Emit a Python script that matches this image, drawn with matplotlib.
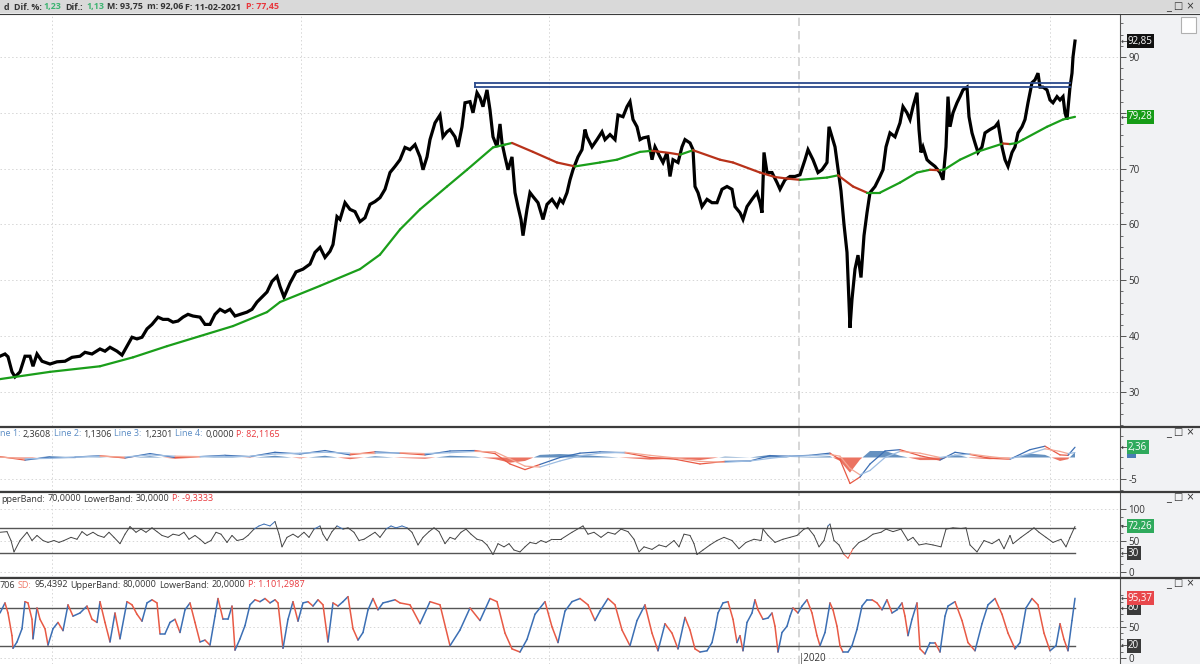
import numpy as np
import matplotlib.pyplot as plt
from matplotlib.collections import LineCollection
from matplotlib.patches import Rectangle
from matplotlib.lines import Line2D
from matplotlib.transforms import blended_transform_factory

plt.rcParams['font.family'] = ['Open Sans', 'DejaVu Sans']

# ---- data (bar index ~ trading day) ----
price_day = [0, 5, 8, 12, 15, 20, 25, 30, 33, 37, 42, 50, 57, 65, 72, 80, 85, 92, 100, 105,
             110, 117, 122, 127, 132, 137, 142, 147, 152, 158, 163, 168, 173, 178, 183, 188, 193, 200, 205, 210,
             215, 220, 225, 230, 235, 240, 247, 252, 257, 262, 267, 272, 277, 280, 284, 290, 296, 303, 310, 315,
             320, 325, 330, 333, 337, 340, 345, 350, 355, 360, 365, 370, 375, 380, 385, 390, 395, 400, 405, 410,
             415, 420, 423, 427, 430, 435, 440, 443, 447, 450, 455, 458, 462, 465, 470, 473, 477, 480, 483, 487,
             490, 493, 497, 500, 502, 505, 508, 512, 515, 518, 521, 523, 527, 530, 533, 538, 543, 547, 552, 557,
             560, 563, 567, 570, 573, 578, 582, 585, 587, 592, 597, 602, 605, 610, 615, 618, 623, 627, 630, 633,
             637, 640, 643, 648, 652, 655, 660, 663, 667, 670, 673, 678, 682, 685, 690, 693, 695, 698, 702, 707,
             712, 717, 722, 727, 732, 735, 740, 743, 747, 752, 757, 760, 762, 764, 767, 772, 777, 780, 785, 790,
             795, 800, 805, 808, 813, 818, 822, 827, 829, 832, 835, 838, 841, 844, 847, 850, 852, 855, 858, 861,
             864, 867, 870, 875, 880, 883, 886, 890, 895, 900, 903, 907, 910, 913, 917, 919, 921, 923, 927, 930,
             935, 940, 943, 946, 948, 950, 953, 957, 960, 963, 967, 969, 972, 975, 978, 982, 985, 990, 995, 998,
             1002, 1005, 1008, 1012, 1015, 1018, 1022, 1025, 1028, 1032, 1035, 1038, 1040, 1043, 1047, 1050, 1053, 1057, 1060, 1063,
             1065, 1067, 1070, 1072, 1073, 1075]
price_close = [36.4, 36.8, 36.3, 33.6, 32.7, 33.6, 36.4, 36.4, 34.6, 36.8, 35.5, 35.0, 35.4, 35.5, 36.2, 36.4, 37.1, 36.8, 37.7, 37.3,
               38.0, 37.3, 36.6, 38.2, 39.8, 39.5, 39.8, 41.3, 42.1, 43.4, 43.0, 43.0, 42.5, 42.7, 43.4, 43.9, 43.6, 43.4, 42.1, 42.1,
               43.9, 44.8, 44.3, 44.8, 43.6, 43.9, 44.3, 44.8, 46.1, 47.0, 47.9, 49.8, 50.7, 48.9, 47.0, 49.5, 51.5, 52.0, 52.9, 55.0,
               55.9, 54.1, 55.2, 56.4, 61.4, 60.9, 63.9, 62.7, 62.3, 60.5, 61.2, 63.6, 64.1, 64.8, 66.3, 69.3, 70.4, 71.6, 73.8, 73.4,
               74.3, 72.1, 69.8, 72.1, 75.2, 78.2, 79.6, 75.7, 76.6, 77.0, 75.7, 73.9, 77.5, 81.8, 82.0, 80.0, 83.6, 82.7, 81.1, 84.1,
               80.5, 75.7, 73.9, 78.0, 74.6, 72.1, 69.8, 72.1, 65.7, 63.2, 60.9, 58.0, 62.7, 65.7, 65.0, 63.9, 60.9, 63.6, 64.5, 63.2,
               64.5, 63.9, 65.7, 68.0, 69.8, 72.1, 73.4, 77.0, 75.7, 73.9, 75.2, 76.6, 75.2, 76.1, 75.2, 79.6, 79.3, 81.1, 82.0, 78.8,
               77.5, 75.2, 75.5, 75.7, 71.6, 73.9, 72.1, 71.1, 72.9, 68.6, 71.6, 71.1, 73.9, 75.2, 74.6, 73.4, 66.8, 65.7, 63.2, 64.5,
               63.9, 63.9, 66.3, 66.8, 66.3, 63.2, 62.1, 60.9, 63.2, 64.5, 65.7, 63.9, 62.1, 72.9, 69.3, 69.3, 67.5, 66.3, 68.0, 68.6,
               68.6, 68.9, 71.6, 73.4, 71.6, 69.3, 69.8, 71.1, 77.5, 75.7, 73.9, 70.0, 66.0, 60.0, 55.0, 41.5, 46.6, 52.0, 54.5, 50.5,
               58.0, 62.1, 65.7, 66.8, 68.6, 69.8, 73.9, 76.4, 75.7, 78.2, 81.1, 80.0, 78.8, 81.1, 83.6, 77.0, 72.9, 73.9, 71.6, 71.1,
               70.4, 69.3, 68.0, 73.9, 82.9, 77.5, 80.0, 81.8, 82.9, 84.1, 84.6, 79.3, 76.4, 74.6, 72.9, 73.9, 76.4, 77.0, 77.5, 78.2,
               73.9, 71.6, 70.4, 72.9, 73.9, 76.4, 77.5, 78.8, 81.8, 85.4, 85.9, 87.1, 84.6, 84.6, 84.1, 82.3, 81.8, 82.9, 82.3, 82.9,
               80.0, 78.8, 84.6, 87.1, 90.0, 92.85]

ma_day = [0, 50, 100, 133, 167, 200, 233, 267, 280, 320, 360, 380, 400, 420, 447, 467, 493, 505, 512, 533,
          557, 575, 600, 617, 640, 652, 670, 680, 693, 720, 733, 760, 775, 788, 800, 827, 838, 853, 867, 880,
          900, 917, 930, 940, 945, 960, 977, 1003, 1010, 1017, 1023, 1047, 1063, 1075]
ma_value = [32.3, 33.6, 34.6, 36.2, 38.2, 40.0, 41.8, 44.3, 46.1, 49.0, 52.0, 54.6, 59.1, 62.7, 66.8, 69.8, 73.8, 74.3, 74.6, 73.0,
            71.1, 70.4, 71.1, 71.6, 73.0, 73.2, 72.8, 72.5, 73.3, 71.6, 71.1, 69.3, 68.5, 68.2, 68.0, 68.4, 68.8, 66.8, 65.7, 65.7,
            67.5, 69.3, 69.8, 69.7, 69.9, 71.6, 73.0, 74.5, 74.4, 74.6, 75.2, 77.5, 78.8, 79.28]

channel_start, channel_end = 475, 1070
channel_levels = [85.35, 84.6]

macd_day = [0, 25, 50, 75, 100, 125, 150, 175, 200, 225, 250, 275, 300, 325, 350, 375, 400, 425, 450, 475,
            495, 510, 525, 540, 560, 580, 600, 625, 650, 675, 700, 725, 750, 770, 790, 810, 830, 840, 850, 860,
            870, 885, 900, 920, 940, 955, 970, 990, 1010, 1030, 1045, 1060, 1068, 1075]
macd_line = [0.2, -0.6, 0.1, 0.1, 0.4, -0.1, 0.9, 0.0, 0.2, 0.5, 0.2, 1.2, 0.8, 1.6, 0.6, 1.3, 1.0, 0.6, 1.5, 1.6,
             0.9, -1.5, -2.8, -1.6, 0.0, 1.0, 1.3, 1.1, 0.0, -0.4, -1.5, -0.9, -0.8, 0.4, 0.3, 0.5, 1.0, -0.5, -6.0, -4.5,
             -1.5, 1.5, 1.8, 0.4, -0.6, 1.2, 0.7, -0.2, -0.4, 1.8, 2.6, 0.6, 0.5, 2.36]
signal_line = [0.1, -0.3, -0.2, 0.1, 0.3, 0.1, 0.6, 0.3, 0.2, 0.3, 0.3, 0.8, 1.0, 1.2, 1.0, 1.0, 1.1, 0.9, 1.1, 1.4,
               1.3, -0.3, -2.0, -2.2, -0.8, 0.4, 1.0, 1.2, 0.5, -0.1, -0.9, -1.1, -0.8, -0.2, 0.3, 0.4, 0.7, 0.3, -2.5, -4.0,
               -3.0, 0.0, 1.4, 1.0, 0.0, 0.5, 0.8, 0.2, -0.3, 0.9, 2.0, 1.4, 0.9, 1.13]

rsi_day = [0, 7, 11, 14, 20, 27, 32, 37, 43, 48, 54, 59, 64, 71, 77, 82, 87, 93, 98, 104,
           109, 114, 120, 125, 130, 136, 141, 146, 152, 157, 162, 168, 173, 179, 184, 189, 195, 200, 205, 211,
           216, 221, 227, 232, 237, 243, 248, 254, 259, 264, 270, 275, 279, 282, 287, 293, 298, 304, 309, 314,
           320, 323, 327, 332, 337, 343, 348, 354, 359, 364, 370, 375, 380, 386, 391, 396, 402, 407, 412, 418,
           423, 429, 434, 439, 445, 450, 455, 461, 466, 471, 477, 482, 487, 493, 498, 504, 509, 514, 520, 525,
           530, 536, 541, 546, 552, 561, 572, 583, 588, 594, 601, 608, 615, 621, 628, 634, 639, 644, 652, 659,
           666, 674, 679, 684, 690, 694, 697, 703, 710, 717, 724, 732, 739, 746, 754, 761, 763, 768, 775, 783,
           790, 797, 804, 808, 814, 819, 824, 828, 830, 834, 839, 844, 848, 853, 859, 866, 873, 881, 886, 893,
           901, 908, 913, 919, 926, 933, 941, 946, 953, 961, 966, 970, 977, 984, 992, 999, 1004, 1010, 1013, 1021,
           1028, 1034, 1039, 1046, 1053, 1061, 1066, 1070, 1075]
rsi_value = [63, 64, 50, 32, 50, 63, 50, 58, 50, 47, 50, 47, 50, 55, 52, 64, 58, 63, 58, 55,
             63, 55, 45, 60, 72, 63, 68, 63, 70, 64, 58, 55, 60, 58, 63, 52, 58, 52, 45, 50,
             63, 60, 47, 58, 50, 52, 58, 68, 73, 76, 73, 80, 60, 40, 55, 60, 55, 63, 55, 68,
             73, 60, 50, 64, 73, 68, 70, 63, 50, 52, 58, 63, 55, 68, 73, 70, 73, 70, 63, 43,
             55, 64, 70, 64, 45, 55, 52, 63, 68, 60, 52, 50, 43, 28, 45, 40, 45, 35, 32, 40,
             47, 45, 50, 47, 52, 52, 63, 73, 60, 63, 55, 63, 60, 68, 64, 52, 32, 40, 36, 43,
             40, 50, 40, 60, 58, 45, 28, 35, 43, 50, 55, 50, 37, 47, 52, 50, 68, 58, 47, 52,
             55, 58, 68, 70, 58, 40, 50, 73, 76, 50, 43, 28, 22, 37, 47, 52, 60, 63, 68, 64,
             68, 50, 55, 43, 45, 43, 40, 68, 70, 69, 70, 43, 32, 50, 45, 52, 37, 58, 45, 55,
             63, 70, 63, 55, 47, 52, 40, 55, 72.26]

stoch_day = [0, 5, 8, 12, 13, 17, 22, 25, 28, 32, 33, 37, 40, 45, 48, 53, 58, 63, 68, 73,
             80, 87, 92, 97, 100, 105, 110, 115, 120, 127, 132, 137, 142, 147, 152, 157, 160, 165, 170, 175,
             180, 185, 190, 195, 200, 205, 210, 215, 218, 223, 228, 232, 235, 240, 245, 250, 255, 260, 265, 270,
             275, 278, 283, 288, 293, 298, 303, 308, 313, 318, 323, 328, 333, 338, 343, 348, 353, 358, 363, 368,
             373, 378, 383, 388, 395, 400, 410, 420, 430, 440, 450, 460, 470, 480, 490, 497, 505, 512, 520, 527,
             535, 545, 552, 558, 565, 572, 580, 588, 595, 600, 608, 615, 622, 630, 637, 645, 652, 658, 665, 672,
             678, 685, 690, 695, 700, 707, 712, 715, 718, 723, 728, 733, 737, 740, 743, 747, 752, 755, 758, 763,
             768, 772, 775, 778, 782, 787, 790, 793, 798, 802, 807, 812, 817, 820, 825, 830, 833, 837, 840, 843,
             848, 852, 857, 862, 867, 872, 877, 882, 887, 892, 897, 902, 905, 908, 912, 917, 920, 925, 930, 935,
             940, 945, 948, 955, 962, 968, 975, 982, 988, 995, 1002, 1008, 1015, 1020, 1026, 1032, 1038, 1044, 1050, 1056,
             1060, 1064, 1068, 1072, 1075]
stoch_value = [72, 88, 72, 36, 16, 26, 47, 90, 88, 62, 31, 80, 62, 47, 21, 47, 57, 44, 85, 67,
               72, 83, 62, 57, 90, 57, 26, 72, 31, 90, 85, 70, 59, 88, 93, 88, 39, 39, 57, 62,
               41, 77, 88, 57, 26, 29, 21, 67, 95, 62, 62, 83, 13, 31, 52, 85, 93, 90, 95, 88,
               93, 88, 16, 62, 90, 59, 88, 90, 83, 93, 85, 26, 88, 83, 90, 98, 47, 29, 41, 77,
               95, 77, 88, 90, 93, 88, 85, 55, 90, 85, 20, 45, 80, 60, 95, 90, 40, 15, 10, 30,
               70, 90, 50, 25, 75, 90, 95, 85, 60, 75, 95, 85, 45, 20, 60, 85, 40, 12, 55, 40,
               15, 65, 45, 15, 10, 12, 25, 46, 72, 88, 90, 62, 25, 36, 12, 57, 72, 93, 77, 62,
               64, 72, 51, 10, 41, 51, 67, 80, 72, 83, 93, 72, 36, 20, 41, 88, 77, 51, 20, 10,
               10, 20, 46, 83, 93, 93, 88, 77, 93, 72, 77, 88, 67, 36, 62, 88, 15, 7, 25, 25,
               10, 67, 83, 90, 60, 25, 12, 55, 85, 95, 70, 40, 15, 25, 80, 95, 85, 40, 12, 20,
               55, 30, 12, 60, 95.37]

# ---- figure layout in pixels ----
W, H = 1200, 664
PLOT_R = 1120
fig = plt.figure(figsize=(12, 6.64), dpi=100)
fig.patch.set_facecolor('#f1f2f4')
TXT = '#333333'
BLUE, LBLUE, RED, LRED = '#3c6fb4', '#9dbde2', '#e85a45', '#f4a592'


def fy(y):
    return 1 - y / H


def make_ax(top, bottom, ylim):
    ax = fig.add_axes([0, fy(bottom), PLOT_R / W, (bottom - top) / H])
    ax.set_facecolor('white')
    ax.set_xlim(0, PLOT_R)
    ax.set_ylim(*ylim)
    for s in ['left', 'top', 'bottom']:
        ax.spines[s].set_visible(False)
    ax.spines['right'].set_color('#555555')
    ax.spines['right'].set_linewidth(0.8)
    ax.set_xticks([])
    ax.yaxis.tick_right()
    ax.tick_params(axis='y', which='major', length=4, width=0.7, color='#555555',
                   labelsize=7, labelcolor=TXT, pad=2)
    ax.tick_params(axis='y', which='minor', length=2.5, width=0.6, color='#555555')
    for xv in [52, 301, 549, 1050]:
        ax.axvline(xv, color='#d6d6d6', lw=0.7, ls=(0, (1.5, 2.5)), zorder=0)
    ax.axvline(799, color='#cfcfcf', lw=1.2, ls=(0, (5, 3)), zorder=0)
    return ax


def tag(ax, val, text, fc, arrow=True):
    tr = blended_transform_factory(fig.transFigure, ax.transData)
    if arrow:
        ax.text(1121 / W, val, '←', transform=tr, fontsize=6, color=TXT, va='center', ha='left',
                clip_on=False, family='DejaVu Sans')
    ax.text(1128 / W, val, text, transform=tr, fontsize=7, color='white', va='center', ha='left',
            clip_on=False, bbox=dict(boxstyle='square,pad=0.15', fc=fc, ec='none'))


def colored_line(ax, x, y, colors, lw, z=3):
    pts = np.column_stack([x, y]).reshape(-1, 1, 2)
    segs = np.concatenate([pts[:-1], pts[1:]], axis=1)
    lc = LineCollection(segs, colors=colors, linewidths=lw, zorder=z, capstyle='round')
    ax.add_collection(lc)


renderer = fig.canvas.get_renderer()


def chain(x, y, parts, size=6.5, weight='normal'):
    for s, c in parts:
        t = fig.text(x / W, fy(y), s, color=c, fontsize=size, weight=weight, va='center', ha='left')
        x += t.get_window_extent(renderer=renderer).width + 2.5


# ---- main price panel ----
ax = make_ax(14, 426, (23.9, 97.7))
ax.set_yticks(range(30, 91, 10))
ax.set_yticklabels(['30', '40', '50', '60', '70', '', '90'])
ax.set_yticks(np.arange(24, 98, 2), minor=True)
ax.grid(axis='y', which='major', color='#d6d6d6', lw=0.7, ls=(0, (1.5, 2.5)))
ax.plot(price_day, price_close, color='black', lw=2.3, solid_joinstyle='miter', zorder=3)
ma = np.array(ma_value)
ma_cols = ['#1a9e1a' if d >= 0 else '#b8321a' for d in np.diff(ma)]
colored_line(ax, ma_day, ma, ma_cols, 1.6, z=4)
for lvl in channel_levels:
    ax.plot([channel_start, channel_end], [lvl, lvl], color='#2b4a8c', lw=1.3, zorder=5)
ax.plot([channel_start, channel_start], channel_levels, color='#2b4a8c', lw=1.3, zorder=5)
tag(ax, price_close[-1], '92,85', '#111111')
tag(ax, ma_value[-1], '79,28', '#169c16')

# ---- MACD panel ----
ax2 = make_ax(428, 490, (-7.3, 6.8))
ax2.set_yticks([-5])
ax2.set_yticklabels(['-5'])
ax2.set_yticks(np.arange(-7.5, 7, 2.5), minor=True)
ax2.grid(axis='y', which='major', color='#d6d6d6', lw=0.7, ls=(0, (1.5, 2.5)))
m = np.array(macd_line)
sg = np.array(signal_line)
hist = m - sg
ax2.fill_between(macd_day, hist, 0, where=hist >= 0, interpolate=True, color='#4a7eb5', lw=0, alpha=0.85)
ax2.fill_between(macd_day, hist, 0, where=hist < 0, interpolate=True, color=RED, lw=0, alpha=0.85)
up = hist[:-1] + hist[1:] >= 0
colored_line(ax2, macd_day, m, [BLUE if u else RED for u in up], 0.9)
colored_line(ax2, macd_day, sg, [LBLUE if u else LRED for u in up], 0.9)
tr2 = blended_transform_factory(fig.transFigure, ax2.transData)
ax2.add_patch(Rectangle((1127 / W, signal_line[-1] - 1.2), 9 / W, 2.0, transform=tr2,
                        fc='#4a7eb5', ec='none', clip_on=False))
tag(ax2, macd_line[-1], '2,36', '#2faa5c')

# ---- RSI panel ----
ax3 = make_ax(493, 576, (-6, 125))
ax3.set_yticks([0, 50, 100])
ax3.set_yticks(np.arange(0, 101, 12.5), minor=True)
ax3.grid(axis='y', which='major', color='#d6d6d6', lw=0.7, ls=(0, (1.5, 2.5)))
for b in (70, 30):
    ax3.plot([0, rsi_day[-1]], [b, b], color='#555555', lw=1.0, zorder=2)
r = np.array(rsi_value)
mid = (r[:-1] + r[1:]) / 2
colored_line(ax3, rsi_day, r, [BLUE if v > 70 else (RED if v < 30 else '#444444') for v in mid], 0.7)
tag(ax3, 30, '30', '#3a3a3a')
tag(ax3, rsi_value[-1], '72,26', '#2faa5c')

# ---- stochastic panel ----
ax4 = make_ax(579, 664, (-9, 126))
ax4.set_yticks([0, 50])
ax4.set_yticks(np.arange(0, 101, 10), minor=True)
ax4.grid(axis='y', which='major', color='#d6d6d6', lw=0.7, ls=(0, (1.5, 2.5)))
for b in (80, 20):
    ax4.plot([0, stoch_day[-1]], [b, b], color='#555555', lw=1.0, zorder=2)
s = np.array(stoch_value)
colored_line(ax4, stoch_day, s, [BLUE if d >= 0 else RED for d in np.diff(s)], 1.1)
tag(ax4, 20, '20', '#3a3a3a')
tag(ax4, 80, '80', '#3a3a3a')
tag(ax4, stoch_value[-1], '95,37', '#e8474b')

# ---- chrome: bars, separators, headers ----
fig.patches.append(Rectangle((0, fy(13)), 1, 13 / H, transform=fig.transFigure, fc='#d9d9d9', ec='none', zorder=0))
for yy, lw in [(13.5, 0.8), (427, 1.6), (491.5, 1.6), (577.5, 1.6)]:
    fig.lines.append(Line2D([0, 1], [fy(yy), fy(yy)], transform=fig.transFigure, color='#3c3c3c', lw=lw))
fig.patches.append(Rectangle((1181 / W, fy(33)), 15 / W, 16 / H, transform=fig.transFigure,
                             fc='white', ec='#b0b0b0', lw=0.8))
for yy in [7, 433, 498, 584]:
    fig.text(1166 / W, fy(yy), '_ □ ×', fontsize=7, color=TXT, va='center', ha='left', family='DejaVu Sans')

GREEN_T, RED_T, BLUE_T, DARK = '#3cb371', '#e8383d', '#5b8cc4', '#333333'
top_parts = [(4, 'd', DARK), (14, 'Dif. %:', DARK), (43, '1,23', GREEN_T), (65, 'Dif.:', DARK),
             (86, '1,13', GREEN_T), (107, 'M: 93,75', DARK), (147, 'm: 92,06', DARK),
             (185, 'F: 11-02-2021', DARK), (246, 'P: 77,45', RED_T)]
for xp, sx, cx in top_parts:
    fig.text(xp / W, fy(7), sx, color=cx, fontsize=6.4, weight='bold', va='center', ha='left')
chain(0, 434, [('ne 1:', BLUE_T), ('2,3608', DARK), ('Line 2:', BLUE_T), ('1,1306', DARK),
               ('Line 3:', BLUE_T), ('1,2301', DARK), ('Line 4:', BLUE_T), ('0,0000', DARK),
               ('P: 82,1165', RED_T)])
chain(1, 499, [('pperBand:', DARK), ('70,0000', DARK), ('LowerBand:', DARK), ('30,0000', DARK),
               ('P: -9,3333', RED_T)])
chain(0, 585, [('706', DARK), ('SD:', '#f07868'), ('95,4392', DARK), ('UpperBand:', DARK), ('80,0000', DARK),
               ('LowerBand:', DARK), ('20,0000', DARK), ('P: 1.101,2987', RED_T)])
fig.text(799 / W, fy(658), '|2020', fontsize=7, color=TXT, va='center', ha='left')

fig.savefig('out.png', dpi=100, facecolor=fig.get_facecolor())
